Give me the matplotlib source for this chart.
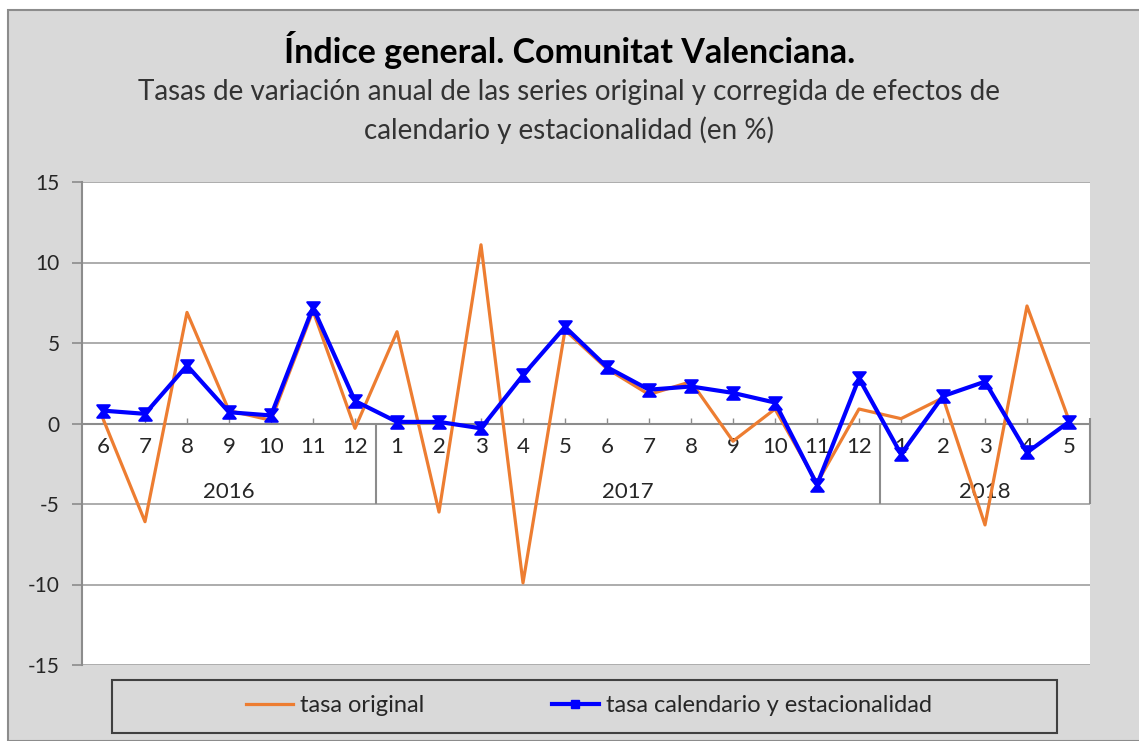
import numpy as np
import matplotlib.pyplot as plt
from matplotlib.patches import Rectangle
from matplotlib.path import Path
from matplotlib.lines import Line2D

plt.rcParams['font.family'] = ['Lato', 'DejaVu Sans']
plt.rcParams['axes.unicode_minus'] = False

# months shown on the category axis
months = ['6', '7', '8', '9', '10', '11', '12',
          '1', '2', '3', '4', '5', '6', '7', '8', '9', '10', '11', '12',
          '1', '2', '3', '4', '5']
years = ['2016', '2017', '2018']
year_counts = [7, 12, 5]

tasa_original = [0.3, -6.1, 6.9, 0.8, 0.2, 7.0, -0.3,
                 5.7, -5.5, 11.1, -9.9, 5.8, 3.4, 1.8, 2.6, -1.1, 0.9, -3.7, 0.9,
                 0.3, 1.6, -6.3, 7.3, 0.2]
tasa_calendario = [0.8, 0.6, 3.6, 0.7, 0.5, 7.2, 1.4,
                   0.1, 0.1, -0.3, 3.0, 6.0, 3.5, 2.1, 2.3, 1.9, 1.3, -3.8, 2.8,
                   -1.9, 1.7, 2.6, -1.8, 0.1]

W, H = 1139, 741
fig = plt.figure(figsize=(W / 100, H / 100), dpi=100)
fig.patch.set_facecolor('white')

# grey chart area with its border
fig.patches.append(Rectangle((8 / W, 0), 1.2, 1 - 10 / H, transform=fig.transFigure,
                             facecolor='#d9d9d9', edgecolor='#8c8c8c', lw=1.5, zorder=-2))

fig.text(0.5, 1 - 50 / H, 'Índice general. Comunitat Valenciana.', ha='center', va='center',
         fontsize=24.5, fontweight='bold', color='black')
fig.text(0.5, 1 - 92 / H, 'Tasas de variación anual de las series original y corregida de efectos de',
         ha='center', va='center', fontsize=20, color='#333333')
fig.text(0.5, 1 - 130 / H, 'calendario y estacionalidad (en %)',
         ha='center', va='center', fontsize=20, color='#333333')

left, right, top, bottom = 82, 1090, 182, 665
ax = fig.add_axes([left / W, (H - bottom) / H, (right - left) / W, (bottom - top) / H])
ax.set_zorder(1)
ax.set_facecolor('white')

x = np.arange(len(months))
ax.set_xlim(-0.5, len(months) - 0.5)
ax.set_ylim(-15, 15)
ax.set_yticks([-15, -10, -5, 0, 5, 10, 15])
ax.tick_params(axis='y', length=7, width=1.2, color='#8c8c8c', labelsize=15,
               labelcolor='#262626', pad=9)
ax.set_xticks([])
for s in ['top', 'right', 'bottom']:
    ax.spines[s].set_visible(False)
ax.spines['left'].set_color('#8c8c8c')
ax.spines['left'].set_linewidth(1.5)
ax.yaxis.grid(True, color='#a6a6a6', lw=1.3)
ax.set_axisbelow(True)

# category axis at zero
ax.axhline(0, color='#8c8c8c', lw=1.5, zorder=1)
ax.vlines(x, 0, 0.35, color='#8c8c8c', lw=1, zorder=1)
for xi, m in zip(x, months):
    ax.text(xi, -1.45, m, ha='center', va='center', fontsize=16, color='#262626', zorder=2)

edges = np.cumsum([0] + year_counts) - 0.5
for e in edges[1:]:
    ax.vlines(e, -5, 0.35 if e == edges[-1] else 0, color='#8c8c8c', lw=1.5, zorder=1, clip_on=False)
for yname, a, b in zip(years, edges[:-1], edges[1:]):
    ax.text((a + b) / 2, -4.25, yname, ha='center', va='center', fontsize=16,
            color='#262626', zorder=2)

# filled hourglass-like star marker
star = Path([(-1, 1), (1, 1), (0.2, 0), (1, -1), (-1, -1), (-0.2, 0), (-1, 1)],
            [Path.MOVETO, Path.LINETO, Path.LINETO, Path.LINETO,
             Path.LINETO, Path.LINETO, Path.CLOSEPOLY])

ax.plot(x, tasa_original, color='#ed7d31', lw=2.3, zorder=3, label='tasa original')
ax.plot(x, tasa_calendario, color='#0000ff', lw=3, marker=star, ms=9, mew=1.5,
        mfc='#0000ff', mec='#0000ff', zorder=4, label='tasa calendario y estacionalidad')

# legend box
fig.patches.append(Rectangle((112 / W, (H - 733) / H), (1057 - 112) / W, (733 - 680) / H,
                             transform=fig.transFigure, facecolor='none',
                             edgecolor='#404040', lw=1.5, zorder=-1))
handles = [Line2D([], [], color='#ed7d31', lw=2.3),
           Line2D([], [], color='#0000ff', lw=3, marker='s', ms=6)]
fig.legend(handles, ['tasa original', 'tasa calendario y estacionalidad'],
           loc='center', bbox_to_anchor=(589 / W, 1 - 706 / H), ncol=2, frameon=False,
           fontsize=17, handlelength=2.0, handletextpad=0.3, columnspacing=5.4,
           labelcolor='#262626')

fig.savefig('out.png', dpi=100, facecolor=fig.get_facecolor())
